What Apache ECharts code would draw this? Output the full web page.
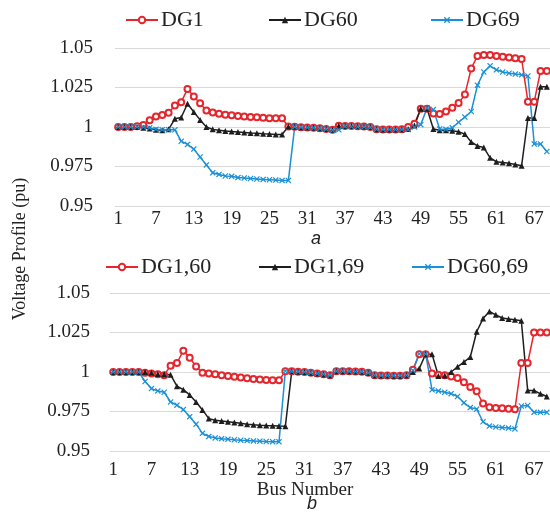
<!DOCTYPE html>
<html>
<head>
<meta charset="utf-8">
<script src="https://cdn.jsdelivr.net/npm/echarts@6/dist/echarts.min.js"></script>
<style>
html,body{margin:0;padding:0;background:#fff;}
#chart{width:550px;height:512px;}
</style>
</head>
<body>
<div id="chart"></div>
<script>
const buses = [1,2,3,4,5,6,7,8,9,10,11,12,13,14,15,16,17,18,19,20,21,22,23,24,25,26,27,28,29,30,31,32,33,34,35,36,37,38,39,40,41,42,43,44,45,46,47,48,49,50,51,52,53,54,55,56,57,58,59,60,61,62,63,64,65,66,67,68,69];
const yTicks = [0.95, 0.975, 1, 1.025, 1.05];

// Panel a
const dg1 = [1.000,1.000,1.000,1.0005,1.0013,1.0042,1.0066,1.0076,1.0090,1.0136,1.0157,1.0240,1.0193,1.0150,1.0105,1.0092,1.0084,1.0078,1.0074,1.0070,1.0067,1.0064,1.0061,1.0058,1.0056,1.0055,1.0055,
 1.0003,1.0001,0.9999,0.9997,0.9995,0.9992,0.9988,0.9982,1.0008,1.0007,1.0006,1.0004,1.0003,1.0000,0.9986,0.9984,0.9984,0.9984,0.9985,1.0000,
 1.0020,1.0115,1.0115,1.0085,1.0083,1.0098,1.0122,1.0152,1.0205,1.0370,1.0450,1.0456,1.0456,1.0450,1.0445,1.0440,1.0435,1.0430,1.0160,1.0160,1.0355,1.0355];
const dg60 = [1.000,1.000,1.000,1.000,0.9995,0.9990,0.9982,0.9980,0.9985,1.0052,1.0060,1.0147,1.0095,1.0045,1.0000,0.9985,0.9980,0.9975,0.9971,0.9968,0.9965,0.9962,0.9960,0.9957,0.9955,0.9953,0.9952,
 1.0003,1.0001,0.9999,0.9997,0.9995,0.9992,0.9988,0.9982,1.0008,1.0007,1.0006,1.0004,1.0003,1.0000,0.9986,0.9984,0.9984,0.9984,0.9985,0.9988,
 1.0010,1.0115,1.0115,0.9987,0.9980,0.9980,0.9976,0.9970,0.9955,0.9905,0.9880,0.9870,0.9805,0.9780,0.9775,0.9770,0.9763,0.9755,1.0057,1.0057,1.0255,1.0255];
const dg69 = [1.000,1.000,1.000,1.000,1.000,0.9995,0.9985,0.9983,0.9983,0.9982,0.9910,0.9890,0.9860,0.9810,0.9760,0.9710,0.9700,0.9690,0.9688,0.9680,0.9677,0.9674,0.9671,0.9668,0.9666,0.9664,0.9662,
 0.9662,1.0001,0.9999,0.9997,0.9994,0.9991,0.9987,0.9980,0.9982,1.0004,1.0003,1.0002,1.0001,0.9998,0.9986,0.9984,0.9984,0.9984,0.9984,0.9984,
 1.0000,1.0015,1.0120,1.0110,0.9988,0.9985,0.9995,1.0030,1.0063,1.0098,1.0265,1.0348,1.0387,1.0362,1.0348,1.0340,1.0335,1.0330,1.0323,0.9893,0.9893,0.9845];

// Panel b
const dg1_60 = [1.000,1.000,1.000,1.000,1.000,0.9995,0.9990,0.9985,0.9980,1.0040,1.0057,1.0135,1.0090,1.0035,0.9995,0.9990,0.9985,0.9980,0.9975,0.9970,0.9965,0.9960,0.9955,0.9952,0.9950,0.9948,0.9947,
 1.0005,1.0004,1.0002,1.0000,0.9996,0.9991,0.9986,0.9980,1.0005,1.0005,1.0004,1.0003,1.0002,0.9995,0.9980,0.9978,0.9978,0.9977,0.9977,0.9980,
 1.0015,1.0113,1.0113,0.9990,0.9982,0.9980,0.9972,0.9962,0.9935,0.9905,0.9878,0.9800,0.9777,0.9772,0.9770,0.9767,0.9764,1.0057,1.0057,1.0250,1.0250,1.0250];
const dg1_69 = [1.000,1.000,1.000,1.000,1.000,1.000,0.9995,0.9988,0.9985,0.9982,0.9910,0.9888,0.9855,0.9810,0.9760,0.9705,0.9695,0.9690,0.9685,0.9680,0.9675,0.9670,0.9666,0.9663,0.9661,0.9660,0.9658,
 0.9657,1.0004,1.0002,1.0000,0.9996,0.9991,0.9986,0.9980,1.0005,1.0005,1.0004,1.0003,1.0002,0.9995,0.9980,0.9978,0.9978,0.9977,0.9977,0.9980,
 1.0000,1.0022,1.0113,1.0113,0.9975,0.9978,1.0000,1.0033,1.0063,1.0095,1.0255,1.0338,1.0383,1.0362,1.0342,1.0335,1.0330,1.0325,0.9883,0.9883,0.9862,0.9845];
const dg60_69 = [1.000,1.000,1.000,1.000,1.000,0.9940,0.9895,0.9880,0.9872,0.9810,0.9790,0.9762,0.9717,0.9670,0.9612,0.9592,0.9583,0.9578,0.9575,0.9571,0.9568,0.9566,0.9564,0.9562,0.9560,0.9559,0.9558,
 1.0005,1.0004,1.0002,1.0000,0.9996,0.9991,0.9986,0.9980,1.0005,1.0005,1.0004,1.0003,1.0002,0.9995,0.9980,0.9978,0.9978,0.9977,0.9977,0.9980,
 1.0010,1.0114,1.0114,0.9887,0.9880,0.9872,0.9863,0.9845,0.9805,0.9775,0.9765,0.9685,0.9658,0.9652,0.9648,0.9645,0.9640,0.9785,0.9788,0.9745,0.9745,0.9745];

const RED = '#e5262c', BLACK = '#1e1e1e', BLUE = '#1a90d6';
const XSYM = 'path://M0,1.4L1.4,0L5,3.6L8.6,0L10,1.4L6.4,5L10,8.6L8.6,10L5,6.4L1.4,10L0,8.6L3.6,5Z';
const FONT = 'Liberation Serif';

function xAxis(gi, margin) {
  return {
    type: 'category', gridIndex: gi, data: buses, boundaryGap: true,
    axisLine: {show: false}, axisTick: {show: false}, splitLine: {show: false},
    axisLabel: {interval: 5, margin: margin, fontSize: 19, color: '#222', fontFamily: FONT}
  };
}
function yAxis(gi, margin) {
  return {
    type: 'value', gridIndex: gi, min: yTicks[0], max: yTicks[yTicks.length - 1], interval: 0.025,
    axisLine: {show: false}, axisTick: {show: false},
    splitLine: {lineStyle: {color: '#d9d9d9', width: 1}},
    axisLabel: {margin: margin, fontSize: 19, color: '#222', fontFamily: FONT,
      formatter: v => String(+v.toFixed(3))}
  };
}
function ser(name, data, gi, color, symbol, size, empty) {
  return {
    name: name, type: 'line', xAxisIndex: gi, yAxisIndex: gi, data: data,
    symbol: symbol, symbolSize: size, showSymbol: true, showAllSymbol: true,
    lineStyle: {color: color, width: 1.5},
    itemStyle: empty ? {color: color, borderWidth: 1} : {color: color},
    emphasis: {disabled: true}, animation: false
  };
}
function leg(name, left, top) {
  return {
    data: [name], left: left, top: top, padding: 0, itemWidth: 32, itemHeight: 8, itemGap: 0,
    textStyle: {fontSize: 22, color: '#222', fontFamily: FONT, padding: [0, 0, 0, -2]},
    selectedMode: false
  };
}

const chart = echarts.init(document.getElementById('chart'), null, {renderer: 'canvas'});
chart.setOption({
  animation: false,
  backgroundColor: '#fff',
  textStyle: {fontFamily: FONT},
  grid: [
    {left: 115, top: 48, width: 439, height: 158},
    {left: 110, top: 293, width: 443, height: 158}
  ],
  xAxis: [xAxis(0, 4), xAxis(1, 10)],
  yAxis: [yAxis(0, 22), yAxis(1, 20)],
  legend: [
    leg('DG1', 125, 9), leg('DG60', 268, 9), leg('DG69', 430, 9),
    leg('DG1,60', 105, 256), leg('DG1,69', 258, 256), leg('DG60,69', 411, 256)
  ],
  series: [
    ser('DG1', dg1, 0, RED, 'emptyCircle', 6, true),
    ser('DG60', dg60, 0, BLACK, 'triangle', 6, false),
    ser('DG69', dg69, 0, BLUE, XSYM, 6, false),
    ser('DG1,60', dg1_60, 1, RED, 'emptyCircle', 6, true),
    ser('DG1,69', dg1_69, 1, BLACK, 'triangle', 6, false),
    ser('DG60,69', dg60_69, 1, BLUE, XSYM, 6, false)
  ],
  graphic: [
    {type: 'text', x: 20, y: 249, rotation: Math.PI / 2,
     style: {text: 'Voltage Profile (pu)', font: '18px "Liberation Serif"', fill: '#222',
             textAlign: 'center', align: 'center', verticalAlign: 'middle', textVerticalAlign: 'middle'}},
    {type: 'text', x: 316, y: 239,
     style: {text: 'a', font: 'italic 18px "Liberation Sans"', fill: '#222',
             textAlign: 'center', align: 'center', verticalAlign: 'middle', textVerticalAlign: 'middle'}},
    {type: 'text', x: 305, y: 490,
     style: {text: 'Bus Number', font: '19px "Liberation Serif"', fill: '#222',
             textAlign: 'center', align: 'center', verticalAlign: 'middle', textVerticalAlign: 'middle'}},
    {type: 'text', x: 312, y: 504,
     style: {text: 'b', font: 'italic 18px "Liberation Sans"', fill: '#222',
             textAlign: 'center', align: 'center', verticalAlign: 'middle', textVerticalAlign: 'middle'}}
  ]
});
</script>
</body>
</html>
